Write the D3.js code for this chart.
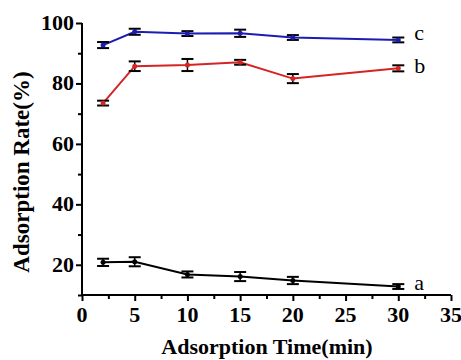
<!DOCTYPE html>
<html>
<head>
<meta charset="utf-8">
<script src="https://cdn.jsdelivr.net/npm/d3@7"></script>
<style>
  body { margin: 0; background: #fff; }
</style>
</head>
<body>
<div id="vis"></div>
<script>
const times = [2, 5, 10, 15, 20, 30];
const seriesA = [20.8, 21.0, 16.8, 16.1, 14.8, 12.8];
const errA = [1.2, 1.5, 1.0, 1.5, 1.2, 0.8];
const seriesB = [73.5, 85.7, 86.1, 87.0, 81.6, 85.0];
const errB = [0.8, 1.6, 2.0, 0.8, 1.5, 1.0];
const seriesC = [92.7, 97.1, 96.5, 96.6, 95.2, 94.4];
const errC = [1.0, 1.0, 0.8, 1.2, 0.8, 0.8];
const xTicks = [0, 5, 10, 15, 20, 25, 30, 35];
const yTicks = [20, 40, 60, 80, 100];

const width = 461, height = 360;
const serif = '"Liberation Serif", "Times New Roman", serif';

const svg = d3.select('#vis')
  .append('svg')
    .attr('width', width)
    .attr('height', height)
    .attr('font-family', serif);

const x = d3.scaleLinear().domain([0, 35]).range([82, 451]);
const y = d3.scaleLinear().domain([10, 100]).range([295, 23]);

// x axis
const xAxis = svg.append('g')
  .attr('transform', 'translate(0,' + y(10) + ')');
xAxis.call(d3.axisBottom(x).tickValues(d3.range(0, 35.1, 2.5)).tickSize(4).tickFormat(''));
xAxis.call(g => g.selectAll('.tick line').attr('stroke-width', 2)
  .attr('y2', d => d % 5 === 0 ? 6 : 4));
xAxis.select('.domain').attr('stroke-width', 2).attr('d', 'M' + x(0) + ',0H' + x(35));
xAxis.selectAll('.xl').data(xTicks).join('text')
  .attr('x', d => x(d)).attr('y', 27)
  .attr('text-anchor', 'middle')
  .attr('font-family', serif)
  .attr('font-size', 22).attr('font-weight', 'bold').attr('fill', '#000')
  .text(d => d);

// y axis
const yAxis = svg.append('g')
  .attr('transform', 'translate(' + x(0) + ',0)');
yAxis.call(d3.axisLeft(y).tickValues(d3.range(10, 100.1, 10)).tickSize(4).tickFormat(''));
yAxis.call(g => g.selectAll('.tick line').attr('stroke-width', 2)
  .attr('x2', d => d % 20 === 0 ? -6 : -4));
yAxis.select('.domain').attr('stroke-width', 2).attr('d', 'M0,' + y(10) + 'V' + y(100));
yAxis.selectAll('.yl').data(yTicks).join('text')
  .attr('x', -8).attr('y', d => y(d) + 7)
  .attr('text-anchor', 'end')
  .attr('font-family', serif)
  .attr('font-size', 22).attr('font-weight', 'bold').attr('fill', '#000')
  .text(d => d);

// axis titles
svg.append('text')
  .attr('x', 267).attr('y', 354)
  .attr('text-anchor', 'middle')
  .attr('font-family', serif)
  .attr('font-size', 22).attr('font-weight', 'bold')
  .text('Adsorption Time(min)');
svg.append('text')
  .attr('transform', 'translate(29,172) rotate(-90)')
  .attr('text-anchor', 'middle')
  .attr('font-family', serif)
  .attr('font-size', 23).attr('font-weight', 'bold')
  .text('Adsorption Rate(%)');

const line = d3.line().x(d => x(d.t)).y(d => y(d.v));

function drawSeries(vals, errs, color, label, labelDy) {
  const pts = times.map((t, i) => ({ t: t, v: vals[i], e: errs[i] }));
  svg.append('path')
    .datum(pts)
    .attr('d', line)
    .attr('fill', 'none')
    .attr('stroke', color)
    .attr('stroke-width', 2);

  const g = svg.append('g');
  pts.forEach(p => {
    const cx = x(p.t);
    g.append('line')
      .attr('x1', cx).attr('x2', cx)
      .attr('y1', y(p.v - p.e)).attr('y2', y(p.v + p.e))
      .attr('stroke', '#000').attr('stroke-width', 1.5);
    [p.v - p.e, p.v + p.e].forEach(v => {
      g.append('line')
        .attr('x1', cx - 6).attr('x2', cx + 6)
        .attr('y1', y(v)).attr('y2', y(v))
        .attr('stroke', '#000').attr('stroke-width', 2);
    });
    g.append('circle')
      .attr('cx', cx).attr('cy', y(p.v))
      .attr('r', 2.5)
      .attr('fill', color);
  });

  const last = pts[pts.length - 1];
  svg.append('text')
    .attr('x', x(last.t) + 16).attr('y', y(last.v) + labelDy)
    .attr('font-family', serif)
    .attr('font-size', 22)
    .text(label);
}

drawSeries(seriesA, errA, '#000', 'a', 3);
drawSeries(seriesB, errB, '#d42424', 'b', 5);
drawSeries(seriesC, errC, '#1c1cb4', 'c', 0);
</script>
</body>
</html>
